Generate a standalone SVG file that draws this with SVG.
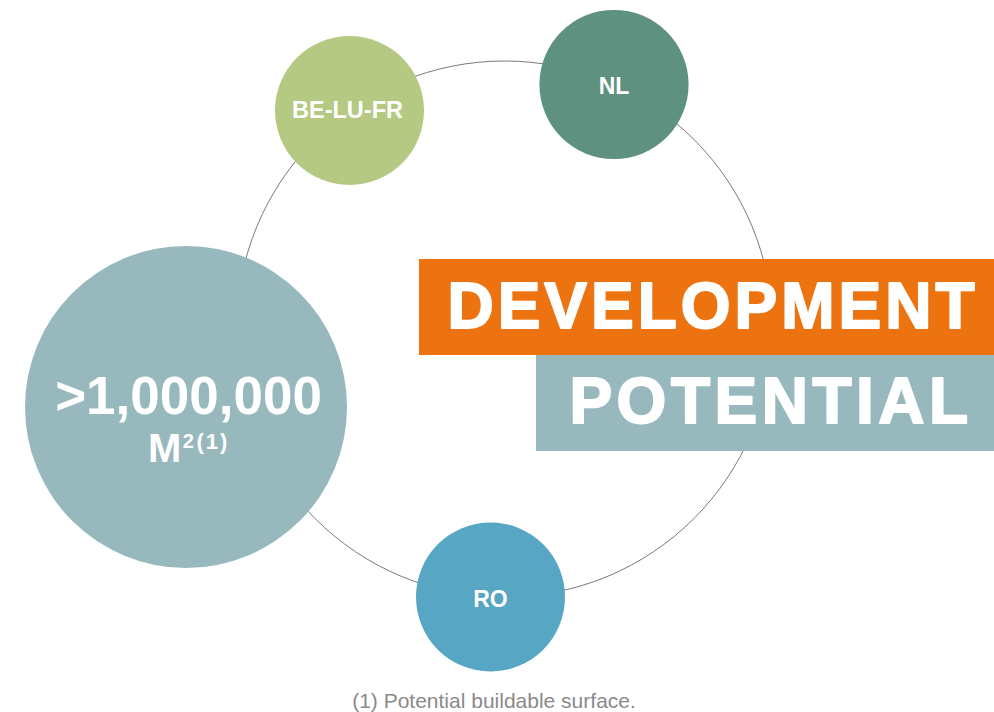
<svg xmlns="http://www.w3.org/2000/svg" width="994" height="712" viewBox="0 0 994 712">
<style>
.lbl{font-family:"Liberation Sans",Arial,sans-serif;font-weight:bold;fill:#fff;text-anchor:middle}
.start{text-anchor:start}
.big{stroke:#fff;stroke-width:2;stroke-linejoin:round}
.ring{fill:none;stroke:#7a7a7a;stroke-width:1}
</style>
<rect width="994" height="712" fill="#fff"/>
<g id="connectors">
<circle class="ring" cx="504.5" cy="329" r="268"/>
</g>
<g id="node-total">
<circle cx="186" cy="407" r="161" fill="#97B9BE"/>
<text class="lbl" x="188.5" y="414" font-size="53">&gt;1,000,000</text>
<text class="lbl start" x="148" y="462" font-size="40">M<tspan font-size="20" dx="1.5" dy="-14">2</tspan><tspan font-size="22" dx="2.5" dy="1" letter-spacing="2">(1)</tspan></text>
</g>
<g id="node-belufr">
<circle cx="349.5" cy="110.5" r="74.5" fill="#B5C983"/>
<text class="lbl" x="347.5" y="118" font-size="23.5">BE-LU-FR</text>
</g>
<g id="node-nl">
<circle cx="614" cy="84.5" r="74.6" fill="#5F9180"/>
<text class="lbl" x="614" y="94" font-size="23">NL</text>
</g>
<g id="node-ro">
<circle cx="490.5" cy="597" r="74.5" fill="#56A6C4"/>
<text class="lbl" x="490.5" y="607" font-size="23">RO</text>
</g>
<g id="title">
<rect x="419" y="259" width="575" height="96" fill="#EC730F"/>
<rect x="536" y="355" width="458" height="96" fill="#97B9BE"/>
<text class="lbl big" x="713" y="328" font-size="64" letter-spacing="4">DEVELOPMENT</text>
<text class="lbl big" x="771" y="423" font-size="64" letter-spacing="4.5">POTENTIAL</text>
</g>
<text x="494" y="708" font-family="Liberation Sans,Arial,sans-serif" font-size="21" fill="#8a8a8a" text-anchor="middle">(1) Potential buildable surface.</text>
</svg>
